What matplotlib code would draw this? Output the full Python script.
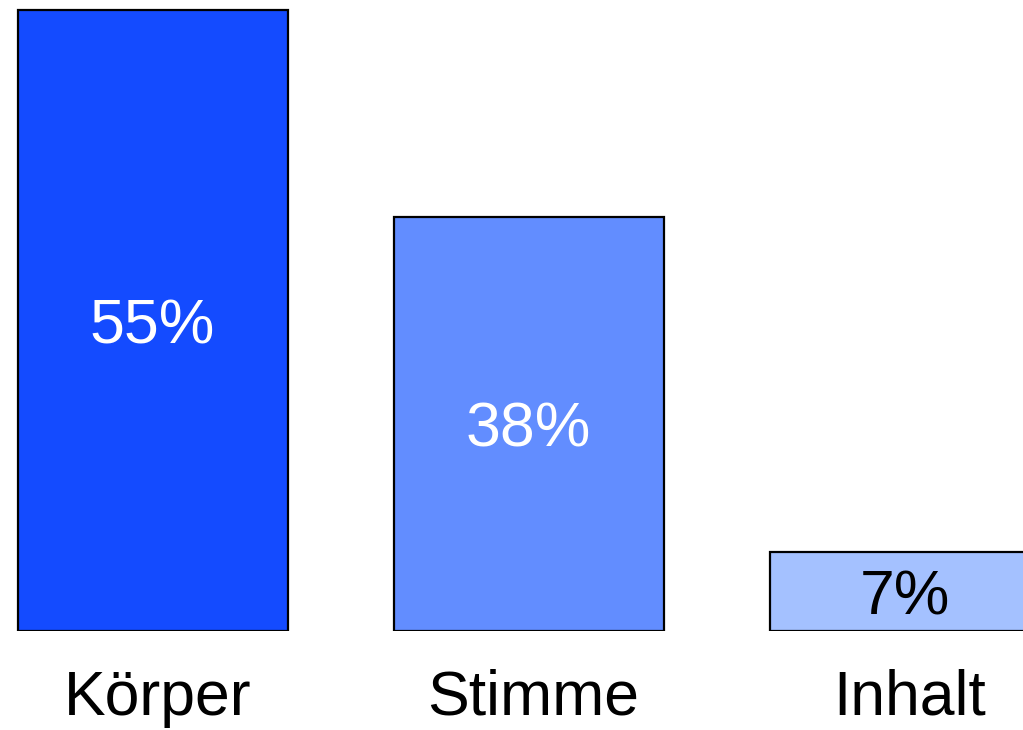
import numpy as np
import matplotlib.pyplot as plt
import matplotlib.transforms as mtransforms

# DATEN

kategorien = ["Körper", "Stimme", "Inhalt"]
hoehen = [55, 36.7, 7]          # Balkenhöhe wie im Bild gezeichnet
beschriftung = ["55%", "38%", "7%"]
farben = ["#144bff", "#628dff", "#a4c1ff"]
textfarben = ["white", "white", "black"]

plt.rcParams['font.family'] = ['Liberation Sans', 'DejaVu Sans']

fig = plt.figure(figsize=(10.23, 7.30), dpi=100)
ax = fig.add_axes([0, 0.1356, 1, 0.8644])

x = np.arange(len(kategorien))
balken = ax.bar(x, hoehen, width=0.718, color=farben,
                edgecolor="black", linewidth=1.6)

for b, txt, tf in zip(balken, beschriftung, textfarben):
    ax.text(b.get_x() + b.get_width()/2, b.get_height()/2, txt,
            ha="center", va="center_baseline", color=tf, fontsize=45)

ax.set_xlim(-0.4056, 2.315)
ax.set_ylim(0, 55.88)
ax.set_xticks(x)
ax.set_xticklabels(kategorien, fontsize=45)
ax.tick_params(axis="x", length=0, pad=27)
verschiebung = mtransforms.ScaledTranslation(5/100, 0, fig.dpi_scale_trans)
for lab in ax.get_xticklabels():
    lab.set_transform(lab.get_transform() + verschiebung)
ax.set_yticks([])
for s in ax.spines.values():
    s.set_visible(False)

fig.savefig("out.png", dpi=100)
